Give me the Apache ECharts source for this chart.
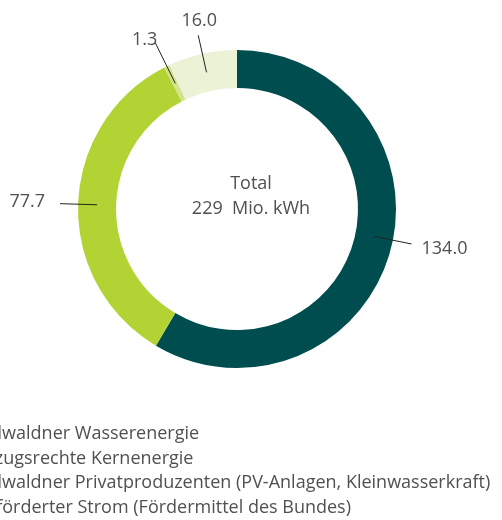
<!DOCTYPE html>
<html><head><meta charset="utf-8">
<script src="https://cdn.jsdelivr.net/npm/echarts@6/dist/echarts.min.js"></script>
<style>html,body{margin:0;padding:0;background:#fff}#c{width:502px;height:520px}</style>
</head><body><div id="c"></div>
<script>
var categories = ['Nidwaldner Wasserenergie', 'Bezugsrechte Kernenergie', 'Nidwaldner Privatproduzenten (PV-Anlagen, Kleinwasserkraft)', 'Geförderter Strom (Fördermittel des Bundes)'];
var values = [134.0, 77.7, 1.3, 16.0];
var labels = ['134.0', '77.7', '1.3', '16.0'];
var totalText = ['Total', '229  Mio. kWh'];
var colors = ['#004d50', '#b3d334', '#d2e38c', '#ebf2d6'];

var FONT = '"Open Sans", sans-serif';
var TXT = '#505050';
var FS = 18;
var CX = 237, CY = 209;
var lineLengths = [38, 37, 45, 38];
var lineTurn = [-4, 0, 0, 0]; // degrees, small visual tweak of leader lines

var ringData = categories.map(function (c, i) {
  return { name: c, value: values[i], itemStyle: { color: colors[i] } };
});
var labelData = categories.map(function (c, i) {
  return { name: c, value: values[i], labelLine: { length: lineLengths[i], length2: 0 } };
});

function rot(p, deg) {
  var a = deg * Math.PI / 180, dx = p[0] - CX, dy = p[1] - CY;
  return [CX + dx * Math.cos(a) - dy * Math.sin(a), CY + dx * Math.sin(a) + dy * Math.cos(a)];
}

var chart = echarts.init(document.getElementById('c'), null, { renderer: 'canvas' });
chart.setOption({
  animation: false,
  color: colors,
  legend: {
    orient: 'vertical',
    left: -62,
    top: 420,
    height: 140,
    itemGap: 6.5,
    itemWidth: 25,
    itemHeight: 14,
    data: categories,
    textStyle: { fontFamily: FONT, fontSize: FS, color: TXT }
  },
  graphic: [{
    type: 'text',
    left: 'center',
    top: 171,
    x: -14,
    z: 10,
    style: {
      text: totalText.join('\n'),
      textAlign: 'center',
      font: FS + 'px ' + FONT,
      fill: TXT,
      lineHeight: 25
    }
  }],
  series: [{
    type: 'pie',
    name: 'ring',
    z: 1,
    center: [CX, CY],
    radius: [121, 159],
    startAngle: 90,
    clockwise: true,
    silent: true,
    label: { show: false },
    labelLine: { show: false },
    data: ringData
  }, {
    type: 'pie',
    name: 'labels',
    z: 5,
    center: [CX, CY],
    radius: [0, 140],
    startAngle: 90,
    clockwise: true,
    silent: true,
    avoidLabelOverlap: false,
    legendHoverLink: false,
    itemStyle: { color: 'rgba(0,0,0,0)' },
    label: {
      show: true,
      position: 'outside',
      fontFamily: FONT,
      fontSize: FS,
      color: TXT,
      formatter: function (p) { return labels[p.dataIndex]; }
    },
    labelLine: { show: true, length: 38, length2: 0, lineStyle: { color: '#222', width: 1 } },
    labelLayout: function (p) {
      var pts = p.labelLinePoints;
      if (!pts) return {};
      var i = p.dataIndex;
      var cp = pts.map(function (q) { return rot(q, lineTurn[i]); });
      var e = cp[cp.length - 1];
      if (i === 0) return { x: e[0] + 10, y: e[1] + 5, align: 'left', verticalAlign: 'middle', labelLinePoints: cp };
      if (i === 1) return { x: e[0] - 15, y: e[1] - 2, align: 'right', verticalAlign: 'middle', labelLinePoints: cp };
      if (i === 2) return { x: e[0] + 2, y: e[1] - 3, align: 'right', verticalAlign: 'middle', labelLinePoints: cp };
      return { x: e[0] + 1, y: e[1] - 5, align: 'center', verticalAlign: 'bottom', labelLinePoints: cp };
    },
    data: labelData
  }]
});
</script></body></html>
